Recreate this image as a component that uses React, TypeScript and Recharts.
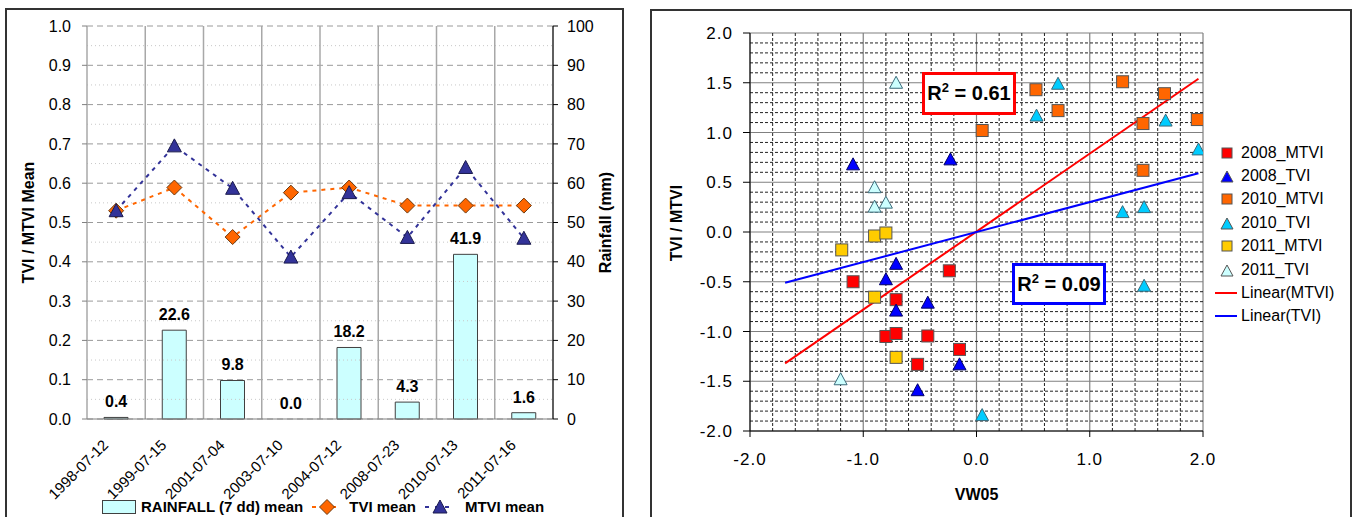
import React from 'react';
import {
  ComposedChart,
  Bar,
  Line,
  XAxis,
  YAxis,
  CartesianGrid,
  ReferenceLine,
  LabelList,
  Legend,
  ScatterChart,
  Scatter
} from 'recharts';

const FONT = '"Liberation Sans", Arial, sans-serif';

// ---- left chart: means per date ----
const dates = ['1998-07-12', '1999-07-15', '2001-07-04', '2003-07-10', '2004-07-12', '2008-07-23', '2010-07-13', '2011-07-16'];
const rainfall = [0.4, 22.6, 9.8, 0.0, 18.2, 4.3, 41.9, 1.6];
const tviMean = [0.53, 0.589, 0.463, 0.576, 0.589, 0.543, 0.543, 0.543];
const mtviMean = [0.53, 0.695, 0.587, 0.412, 0.576, 0.462, 0.64, 0.46];

const meanTicks = [0, 0.1, 0.2, 0.3, 0.4, 0.5, 0.6, 0.7, 0.8, 0.9, 1.0];
const meanMinor = [0.05, 0.15, 0.25, 0.35, 0.45, 0.55, 0.65, 0.75, 0.85, 0.95];
const rainTicks = [0, 10, 20, 30, 40, 50, 60, 70, 80, 90, 100];
const slotEdges = [0, 1, 2, 3, 4, 5, 6, 7, 8];
const slotCenters = [0.5, 1.5, 2.5, 3.5, 4.5, 5.5, 6.5, 7.5];

// ---- right chart: VW05 vs TVI / MTVI ----
const mtvi2008 = [
  { x: -1.09, y: -0.5 }, { x: -0.24, y: -0.39 }, { x: -0.71, y: -0.68 }, { x: -0.8, y: -1.05 },
  { x: -0.71, y: -1.02 }, { x: -0.43, y: -1.045 }, { x: -0.15, y: -1.18 }, { x: -0.52, y: -1.33 }
];
const tvi2008 = [
  { x: -1.09, y: 0.68 }, { x: -0.23, y: 0.73 }, { x: -0.71, y: -0.32 }, { x: -0.8, y: -0.475 },
  { x: -0.71, y: -0.79 }, { x: -0.43, y: -0.71 }, { x: -0.15, y: -1.33 }, { x: -0.52, y: -1.59 }
];
const mtvi2010 = [
  { x: 0.05, y: 1.02 }, { x: 0.525, y: 1.43 }, { x: 0.72, y: 1.22 }, { x: 1.29, y: 1.51 },
  { x: 1.66, y: 1.39 }, { x: 1.47, y: 1.09 }, { x: 1.95, y: 1.13 }, { x: 1.47, y: 0.62 }
];
const tvi2010 = [
  { x: 0.72, y: 1.49 }, { x: 0.53, y: 1.17 }, { x: 1.67, y: 1.12 }, { x: 1.96, y: 0.83 },
  { x: 1.29, y: 0.2 }, { x: 1.48, y: 0.25 }, { x: 1.48, y: -0.54 }, { x: 0.05, y: -1.84 }
];
const mtvi2011 = [
  { x: -1.19, y: -0.18 }, { x: -0.9, y: -0.04 }, { x: -0.8, y: -0.01 }, { x: -0.9, y: -0.655 }, { x: -0.71, y: -1.26 }
];
const tvi2011 = [
  { x: -0.71, y: 1.5 }, { x: -0.9, y: 0.45 }, { x: -0.9, y: 0.255 }, { x: -0.8, y: 0.295 }, { x: -1.2, y: -1.48 }
];
const fitMTVI = [{ x: -1.69, y: -1.32 }, { x: 1.96, y: 1.54 }];
const fitTVI = [{ x: -1.69, y: -0.51 }, { x: 1.96, y: 0.59 }];

const vwTicks = [-2, -1, 0, 1, 2];
const indexTicks = [-2, -1.5, -1, -0.5, 0, 0.5, 1, 1.5, 2];
const vwMinor = [-1.8, -1.6, -1.4, -1.2, -0.8, -0.6, -0.4, -0.2, 0.2, 0.4, 0.6, 0.8, 1.2, 1.4, 1.6, 1.8];
const indexMinor = [
  -1.9, -1.8, -1.7, -1.6, -1.4, -1.3, -1.2, -1.1, -0.9, -0.8, -0.7, -0.6, -0.4, -0.3, -0.2, -0.1,
  0.1, 0.2, 0.3, 0.4, 0.6, 0.7, 0.8, 0.9, 1.1, 1.2, 1.3, 1.4, 1.6, 1.7, 1.8, 1.9
];

const scatterSeries = [
  { name: '2008_MTVI', data: mtvi2008, color: '#ff0000', shape: 'square' },
  { name: '2008_TVI', data: tvi2008, color: '#0000ff', shape: 'triangle' },
  { name: '2010_MTVI', data: mtvi2010, color: '#ff6600', shape: 'square' },
  { name: '2010_TVI', data: tvi2010, color: '#00ccff', shape: 'triangle' },
  { name: '2011_MTVI', data: mtvi2011, color: '#ffcc00', shape: 'square' },
  { name: '2011_TVI', data: tvi2011, color: '#ccffff', shape: 'triangle' }
];

const leftData = dates.map((d, i) => ({
  slot: slotCenters[i],
  date: d,
  rain: rainfall[i],
  tvi: tviMean[i],
  mtvi: mtviMean[i]
}));

function Diamond({ cx, cy }: { cx: number; cy: number }) {
  const r = 7.5;
  return <polygon points={`${cx},${cy - r} ${cx + r},${cy} ${cx},${cy + r} ${cx - r},${cy}`} fill="#ff6600" stroke="#6b3a10" strokeWidth={1} />;
}

function Tri({ cx, cy, fill, stroke, w = 7, h = 6 }: any) {
  return <polygon points={`${cx},${cy - h - 1} ${cx + w},${cy + h} ${cx - w},${cy + h}`} fill={fill} stroke={stroke} strokeWidth={1} />;
}

function Sq({ cx, cy, fill }: any) {
  return <rect x={cx - 6} y={cy - 6} width={12} height={12} fill={fill} stroke="#555" strokeWidth={1} />;
}

const DateTick = (props: any) => {
  const { x, y, payload } = props;
  const label = dates[Math.floor(payload.value)];
  return (
    <g transform={`translate(${x - 7},${y + 27})`}>
      <text x={0} y={0} textAnchor="end" transform="rotate(-45)" fontSize={15} fill="#000" fontFamily={FONT}>
        {label}
      </text>
    </g>
  );
};

const LeftLegend = () => (
  <div style={{ display: 'flex', alignItems: 'center', fontFamily: FONT, fontWeight: 'bold', fontSize: 15, whiteSpace: 'nowrap', color: '#000', lineHeight: '16px' }}>
    <svg width={35} height={14}>
      <rect x={0.5} y={0.5} width={33} height={13} fill="#ccffff" stroke="#404040" />
    </svg>
    <span style={{ marginLeft: 4 }}>RAINFALL (7 dd) mean</span>
    <svg width={30} height={16} style={{ marginLeft: 9 }}>
      <line x1={0} y1={8} x2={30} y2={8} stroke="#ff6600" strokeWidth={2} strokeDasharray="4 6" />
      <Diamond cx={15} cy={8} />
    </svg>
    <span style={{ marginLeft: 7 }}>TVI mean</span>
    <svg width={30} height={16} style={{ marginLeft: 9 }}>
      <line x1={0} y1={8} x2={30} y2={8} stroke="#333399" strokeWidth={2} strokeDasharray="4 6" />
      <Tri cx={15} cy={8} fill="#333399" stroke="#1a1a4d" />
    </svg>
    <span style={{ marginLeft: 10 }}>MTVI mean</span>
  </div>
);

const RightLegend = () => (
  <div style={{ fontFamily: FONT, fontSize: 16, color: '#000', whiteSpace: 'nowrap' }}>
    {scatterSeries.map((s) => (
      <div key={s.name} style={{ display: 'flex', alignItems: 'center', height: 23.4 }}>
        <svg width={24} height={16}>
          {s.shape === 'square' ? (
            <rect x={7} y={3} width={10} height={10} fill={s.color} stroke="#555" />
          ) : (
            <Tri cx={12} cy={9} w={6} h={5} fill={s.color} stroke="#555" />
          )}
        </svg>
        <span style={{ marginLeft: 2 }}>{s.name}</span>
      </div>
    ))}
    {[
      { name: 'Linear(MTVI)', color: '#ff0000' },
      { name: 'Linear(TVI)', color: '#0000ff' }
    ].map((s) => (
      <div key={s.name} style={{ display: 'flex', alignItems: 'center', height: 23.4 }}>
        <svg width={24} height={16}>
          <line x1={0} y1={8} x2={22} y2={8} stroke={s.color} strokeWidth={2} />
        </svg>
        <span style={{ marginLeft: 2 }}>{s.name}</span>
      </div>
    ))}
  </div>
);

const tickStyle = { fontSize: 16, fill: '#000', fontFamily: FONT };
const rTickStyle = { fontSize: 17, fill: '#000', fontFamily: FONT, letterSpacing: 1 };
const titleStyle = { fontSize: 16, fontWeight: 'bold', fill: '#000', fontFamily: FONT };

function MeansChart() {
  return (
    <ComposedChart width={618} height={513} data={leftData} margin={{ top: 18, right: 0, left: 0, bottom: 0 }}>
      <CartesianGrid yAxisId="l" vertical={false} stroke="#9a9a9a" strokeDasharray="6 4" />
      {meanMinor.map((v) => (
        <ReferenceLine key={'m' + v} yAxisId="l" y={v} stroke="#c8c8c8" strokeDasharray="1 3" />
      ))}
      {slotEdges.map((v) => (
        <ReferenceLine key={'e' + v} yAxisId="l" x={v} stroke="#a8a8a8" strokeWidth={1.5} />
      ))}
      <XAxis
        xAxisId="edge"
        type="number"
        domain={[0, 8]}
        ticks={slotEdges}
        interval={0}
        tick={false}
        tickSize={5}
        tickLine={{ stroke: '#808080' }}
        axisLine={false}
        height={0}
      />
      <XAxis
        type="number"
        dataKey="slot"
        domain={[0, 8]}
        ticks={slotCenters}
        interval={0}
        tick={<DateTick />}
        tickLine={false}
        tickSize={0}
        tickMargin={0}
        axisLine={{ stroke: '#808080' }}
        height={102}
      />
      <YAxis
        yAxisId="l"
        domain={[0, 1]}
        ticks={meanTicks}
        tickFormatter={(v: number) => v.toFixed(1)}
        tick={tickStyle}
        tickSize={5}
        tickMargin={11}
        axisLine={false}
        tickLine={{ stroke: '#808080' }}
        width={82}
        label={{ value: 'TVI / MTVI Mean', angle: -90, position: 'center', dx: -18, style: titleStyle }}
      />
      <YAxis
        yAxisId="r"
        orientation="right"
        domain={[0, 100]}
        ticks={rainTicks}
        tick={tickStyle}
        tickSize={5}
        tickMargin={9}
        axisLine={{ stroke: '#000' }}
        tickLine={{ stroke: '#000' }}
        width={70}
        label={{ value: 'Rainfall (mm)', angle: -90, position: 'center', dx: 17, style: titleStyle }}
      />
      <Bar yAxisId="r" dataKey="rain" fill="#ccffff" stroke="#404040" strokeWidth={1} barSize={24} isAnimationActive={false} />
      {/* carries the rainfall value labels, so the zero bar gets one too */}
      <Line yAxisId="r" dataKey="rain" stroke="none" dot={false} activeDot={false} legendType="none" isAnimationActive={false}>
        <LabelList
          dataKey="rain"
          position="top"
          offset={10}
          formatter={(v: any) => Number(v).toFixed(1)}
          fill="#000"
          fontSize={16}
          fontWeight="bold"
          fontFamily={FONT}
        />
      </Line>
      <Line
        yAxisId="l"
        dataKey="tvi"
        stroke="#ff6600"
        strokeWidth={2}
        strokeDasharray="4 5"
        dot={(p: any) => <Diamond key={'d' + p.index} cx={p.cx} cy={p.cy} />}
        activeDot={false}
        isAnimationActive={false}
      />
      <Line
        yAxisId="l"
        dataKey="mtvi"
        stroke="#333399"
        strokeWidth={2}
        strokeDasharray="4 5"
        dot={(p: any) => <Tri key={'t' + p.index} cx={p.cx} cy={p.cy} fill="#333399" stroke="#1a1a4d" />}
        activeDot={false}
        isAnimationActive={false}
      />
      <Legend
        layout="horizontal"
        verticalAlign="middle"
        align="center"
        content={<LeftLegend />}
        wrapperStyle={{ left: 97, top: 491, width: 'auto' }}
      />
    </ComposedChart>
  );
}

function IndexChart() {
  return (
    <ScatterChart width={699} height={510} margin={{ top: 24, right: 147, left: 0, bottom: 0 }}>
      <CartesianGrid stroke="#808080" strokeWidth={1.2} />
      {indexMinor.map((v) => (
        <ReferenceLine key={'h' + v} y={v} stroke="#222" strokeDasharray="3 2" />
      ))}
      {vwMinor.map((v) => (
        <ReferenceLine key={'v' + v} x={v} stroke="#222" strokeDasharray="3 2" />
      ))}
      <XAxis
        type="number"
        dataKey="x"
        domain={[-2, 2]}
        ticks={vwTicks}
        tickFormatter={(v: number) => v.toFixed(1)}
        tick={rTickStyle}
        tickSize={6}
        tickMargin={16}
        axisLine={{ stroke: '#000' }}
        tickLine={{ stroke: '#000' }}
        height={88}
        allowDataOverflow
        label={{ value: 'VW05', position: 'center', dy: 19, style: titleStyle }}
      />
      <YAxis
        type="number"
        dataKey="y"
        domain={[-2, 2]}
        ticks={indexTicks}
        tickFormatter={(v: number) => v.toFixed(1)}
        tick={rTickStyle}
        tickSize={7}
        tickMargin={10}
        axisLine={{ stroke: '#000' }}
        tickLine={{ stroke: '#000' }}
        width={99}
        allowDataOverflow
        label={{ value: 'TVI / MTVI', angle: -90, position: 'center', dx: -24, dy: -9, style: titleStyle }}
      />
      <ReferenceLine segment={fitMTVI} stroke="#ff0000" strokeWidth={2} />
      <ReferenceLine segment={fitTVI} stroke="#0000ff" strokeWidth={2} />
      {scatterSeries.map((s) => (
        <Scatter
          key={s.name}
          name={s.name}
          data={s.data}
          fill={s.color}
          isAnimationActive={false}
          shape={(p: any) =>
            s.shape === 'square' ? (
              <Sq cx={p.cx} cy={p.cy} fill={s.color} />
            ) : (
              <Tri cx={p.cx} cy={p.cy} w={6.5} h={5.5} fill={s.color} stroke={s.color === '#0000ff' ? '#000066' : '#3a6a7a'} />
            )
          }
        />
      ))}
      <Legend
        layout="horizontal"
        verticalAlign="middle"
        align="center"
        content={<RightLegend />}
        wrapperStyle={{ left: 564, top: 132, width: 'auto' }}
      />
    </ScatterChart>
  );
}

const boxText: React.CSSProperties = {
  position: 'absolute',
  background: '#fff',
  boxSizing: 'border-box',
  display: 'flex',
  alignItems: 'center',
  justifyContent: 'center',
  fontFamily: FONT,
  fontWeight: 'bold',
  fontSize: 20,
  color: '#000',
  whiteSpace: 'nowrap'
};

export default function App() {
  return (
    <div style={{ position: 'fixed', left: 0, top: 0, width: 1352, height: 517, overflow: 'hidden', background: '#fff' }}>
      <div style={{ position: 'absolute', left: 5, top: 8, width: 619, height: 530, border: '2px solid #333', boxSizing: 'border-box' }} />
      <div style={{ position: 'absolute', left: 5, top: 8 }}>
        <MeansChart />
      </div>
      <div style={{ position: 'absolute', left: 650, top: 9, width: 702, height: 530, border: '2px solid #333', boxSizing: 'border-box' }} />
      <div style={{ position: 'absolute', left: 651, top: 9 }}>
        <IndexChart />
      </div>
      <div style={{ ...boxText, left: 922, top: 72, width: 94, height: 43, border: '3px solid #ff0000' }}>
        <span>
          R<sup style={{ fontSize: 13, verticalAlign: 'super', lineHeight: 0 }}>2</sup> = 0.61
        </span>
      </div>
      <div style={{ ...boxText, left: 1012, top: 263, width: 94, height: 42, border: '3px solid #0000ff' }}>
        <span>
          R<sup style={{ fontSize: 13, verticalAlign: 'super', lineHeight: 0 }}>2</sup> = 0.09
        </span>
      </div>
    </div>
  );
}
